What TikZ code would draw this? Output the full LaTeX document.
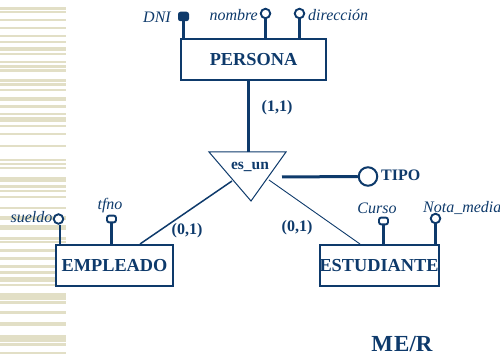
\documentclass[tikz,border=0pt]{standalone}
\usepackage{fontspec}
\setmainfont{Liberation Serif}
\definecolor{navy}{RGB}{14,58,107}
\definecolor{stripe}{RGB}{226,223,198}
\tikzset{
  entity/.style={draw=navy, line width=2pt, fill=white, inner sep=0pt,
    minimum width=117pt, minimum height=41pt, text=navy,
    font=\fontsize{18.3}{18.3}\selectfont\bfseries},
  attrlbl/.style={text=navy, inner sep=0pt, font=\fontsize{16}{16}\selectfont\itshape},
  cardlbl/.style={text=navy, inner sep=0pt, font=\fontsize{16}{16}\selectfont\bfseries},
  keymark/.style={rectangle, fill=navy, rounded corners=2.5pt, inner sep=0pt,
    minimum width=11pt, minimum height=9.5pt},
  circmark/.style={circle, draw=navy, line width=1.9pt, fill=white, inner sep=0pt,
    minimum size=9.5pt},
  multimark/.style={rectangle, draw=navy, line width=1.9pt, fill=white, rounded corners=2.2pt,
    inner sep=0pt, minimum width=9pt, minimum height=6.8pt},
  stem/.style={draw=navy, line width=2.3pt},
  link/.style={draw=navy, line width=3pt},
}
\begin{document}
\begin{tikzpicture}[x=1pt, y=-1pt]
\useasboundingbox (0,0) rectangle (500,355);

% decorative stripes down the left margin
\foreach \a/\b in {7/10,11/13,19/21,27/29,35/37,41/43,47/51,53/55,61/63,65/68,69/72,
  79/82,83/86,89/91,97/101,105/108,113/115,117/122,125/127,133/135,145/147,159/161,
  163/165,167/169,177/182,185/188,190/192,196/198,207/209,216/220,225/230,237/240,
  241/243,249/252,257/260,265/268,271/274,277/282,284/286,293/300,301/304,311/314,
  322/326,335/342,343/346,352/354}
  \fill[stripe] (0,\a) rectangle (66,\b);

% entities
\node[entity, minimum width=145pt] (persona) at (253.5,59.5) {PERSONA};
\node[entity] (empleado) at (114.5,265.5) {EMPLEADO};
\node[entity, minimum width=118pt] (estudiante) at (379,265.5) {ESTUDIANTE};

% generalisation triangle
\coordinate (tl) at (209,152);
\coordinate (tr) at (286,152);
\coordinate (tb) at (251,201);
\draw[navy, line width=1pt, line join=miter] (tl) -- (tr) -- (tb) -- cycle;
\node[cardlbl, font=\fontsize{15.5}{15.5}\selectfont\bfseries] (esun) at (250,167) {es\_un};
\coordinate (isatop) at (248,152);
\coordinate (isaleft) at (232,181);
\coordinate (isaright) at (269,180);
\coordinate (isatipo) at (282,177);

% connectors of the hierarchy
\draw[link] (isatop |- persona.south) -- (isatop);
\draw[navy, line width=1.5pt] (isaleft) -- ([xshift=25.5pt]empleado.north);
\draw[navy, line width=0.9pt] (isaright) -- ([xshift=-19pt]estudiante.north);

% discriminant attribute
\node[circle, draw=navy, line width=2pt, fill=white, inner sep=0pt, minimum size=18.5pt] (tipo) at (368,176.5) {};
\draw[link] (isatipo) -- (tipo.west);
\node[cardlbl, anchor=west] (tipolbl) at (381,175.5) {TIPO};

% cardinalities
\node[cardlbl] (c11) at (277,108) {(1,1)};
\node[cardlbl] (c01a) at (187,231) {(0,1)};
\node[cardlbl] (c01b) at (297,227.5) {(0,1)};

% attributes of PERSONA
\node[keymark] (dni) at (183.5,16.5) {};
\draw[stem] (dni) -- (dni |- persona.north);
\node[attrlbl, anchor=east] (dnilbl) at (171,17) {DNI};
\node[circmark] (nombre) at (265.5,13.5) {};
\draw[stem] (nombre.south) -- (nombre.south |- persona.north);
\node[attrlbl, anchor=east] (nombrelbl) at (258,15) {nombre};
\node[circmark] (direccion) at (299.5,13.5) {};
\draw[stem] (direccion.south) -- (direccion.south |- persona.north);
\node[attrlbl, anchor=west] (direccionlbl) at (308,15) {dirección};

% attributes of EMPLEADO
\node[circmark] (sueldo) at (58.5,219) {};
\draw[stem] ([xshift=1.5pt]sueldo.south) -- ([xshift=1.5pt]sueldo.south |- empleado.north);
\node[attrlbl, anchor=east] (sueldolbl) at (52.5,217) {sueldo};
\node[multimark] (tfno) at (111.5,219) {};
\draw[stem] (tfno.south) -- (tfno.south |- empleado.north);
\node[attrlbl] (tfnolbl) at (110,206) {tfno};

% attributes of ESTUDIANTE
\node[multimark] (curso) at (383.5,221) {};
\draw[stem] (curso.south) -- (curso.south |- estudiante.north);
\node[attrlbl] (cursolbl) at (377,208) {Curso};
\node[circmark] (nota) at (435.5,218.5) {};
\draw[stem] (nota.south) -- (nota.south |- estudiante.north);
\node[attrlbl, anchor=west] (notalbl) at (423,207.5) {Nota\_media};

% caption
\node[text=navy, inner sep=0pt, anchor=base, font=\fontsize{23}{23}\selectfont\bfseries] (caption) at (402,351) {M\kern1pt E/R};
\end{tikzpicture}
\end{document}
